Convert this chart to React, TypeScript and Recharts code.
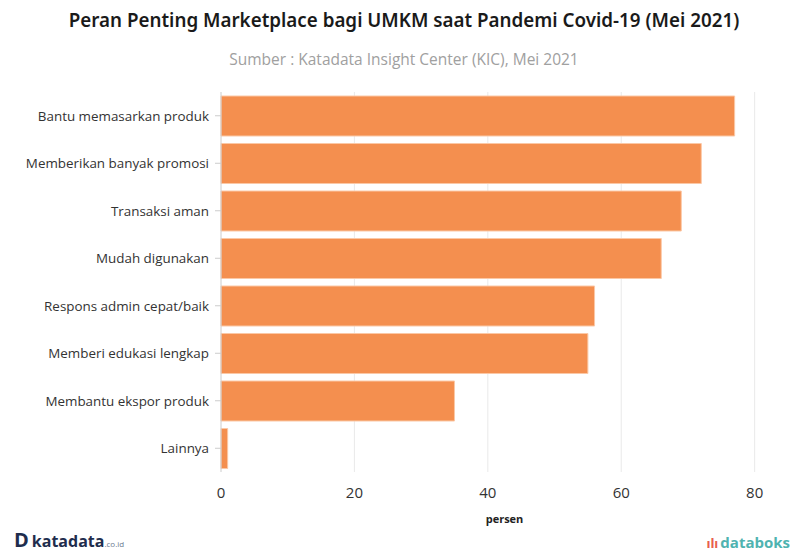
import { type JSX } from 'react'
import {
  BarChart,
  Bar,
  XAxis,
  YAxis,
  CartesianGrid,
  Label,
} from 'recharts'

const CATEGORIES = [
  'Bantu memasarkan produk',
  'Memberikan banyak promosi',
  'Transaksi aman',
  'Mudah digunakan',
  'Respons admin cepat/baik',
  'Memberi edukasi lengkap',
  'Membantu ekspor produk',
  'Lainnya',
]

const VALUES = [77, 72, 69, 66, 56, 55, 35, 1]

const X_TICKS = [0, 20, 40, 60, 80]
const X_DOMAIN: [number, number] = [0, 85]

const data = CATEGORIES.map((name, i) => ({ name, value: VALUES[i] }))

const FONT = '"Open Sans", "Noto Sans", sans-serif'

// grid lines only at the labelled ticks (no line at the domain end)
const gridAtTicks = ({ xAxis, offset }: any): number[] => {
  const scale =
    xAxis && typeof xAxis.scale === 'function'
      ? (v: number) => xAxis.scale(v)
      : (v: number) =>
          offset.left + (offset.width * (v - X_DOMAIN[0])) / (X_DOMAIN[1] - X_DOMAIN[0])
  return X_TICKS.filter((t) => t > 0).map(scale)
}

export default function App(): JSX.Element {
  return (
    <div
      style={{
        position: 'absolute',
        left: 0,
        top: 0,
        width: 794,
        height: 553,
        background: 'white',
        fontFamily: FONT,
        overflow: 'hidden',
      }}
    >
      <div
        style={{
          position: 'absolute',
          top: 7,
          left: 14,
          right: 0,
          textAlign: 'center',
          fontSize: 18.8,
          fontWeight: 600,
          color: '#1a1a1a',
          fontFamily: '"Noto Sans", sans-serif',
        }}
      >
        Peran Penting Marketplace bagi UMKM saat Pandemi Covid-19 (Mei 2021)
      </div>
      <div
        style={{
          position: 'absolute',
          top: 48,
          left: 14,
          right: 0,
          textAlign: 'center',
          fontSize: 15.5,
          color: '#a0a0a0',
        }}
      >
        Sumber : Katadata Insight Center (KIC), Mei 2021
      </div>

      <BarChart
        width={794}
        height={553}
        data={data}
        layout="vertical"
        margin={{ top: 92, right: 6, bottom: 0, left: 0 }}
        barCategoryGap={4}
      >
        <CartesianGrid
          horizontal={false}
          stroke="#e9e9e9"
          verticalCoordinatesGenerator={gridAtTicks}
        />
        <XAxis
          type="number"
          domain={X_DOMAIN}
          ticks={X_TICKS}
          axisLine={false}
          tickLine={false}
          tickMargin={9}
          height={81}
          tick={{ fontSize: 15, fill: '#333' }}
        >
          <Label
            value="persen"
            position="insideBottom"
            offset={30}
            style={{ fontSize: 11, fontWeight: 700, fill: '#222' }}
          />
        </XAxis>
        <YAxis
          type="category"
          dataKey="name"
          width={221}
          axisLine={{ stroke: '#cccccc' }}
          tickLine={{ stroke: '#cccccc' }}
          tickSize={6}
          tickMargin={6}
          tick={{ fontSize: 13.4, fill: '#333' }}
          interval={0}
        />
        <Bar
          dataKey="value"
          fill="#f48f4f"
          stroke="#fbc8a6"
          strokeWidth={1}
          isAnimationActive={false}
        />
      </BarChart>

      <div
        style={{
          position: 'absolute',
          left: 14,
          top: 530,
          display: 'flex',
          alignItems: 'baseline',
          color: '#1f2d4d',
          fontWeight: 700,
        }}
      >
        <span style={{ fontSize: 20, lineHeight: '20px', marginRight: 3 }}>D</span>
        <span style={{ fontSize: 16, lineHeight: '20px' }}>katadata</span>
        <span style={{ fontSize: 8, color: '#6b7a90', fontWeight: 400 }}>.co.id</span>
      </div>
      <div
        style={{
          position: 'absolute',
          right: 4,
          top: 532,
          display: 'flex',
          alignItems: 'baseline',
          fontWeight: 700,
        }}
      >
        <span style={{ color: '#e8604c', fontSize: 13, marginRight: 2 }}>ılı</span>
        <span style={{ color: '#4fb3b0', fontSize: 15 }}>databoks</span>
      </div>
    </div>
  )
}
